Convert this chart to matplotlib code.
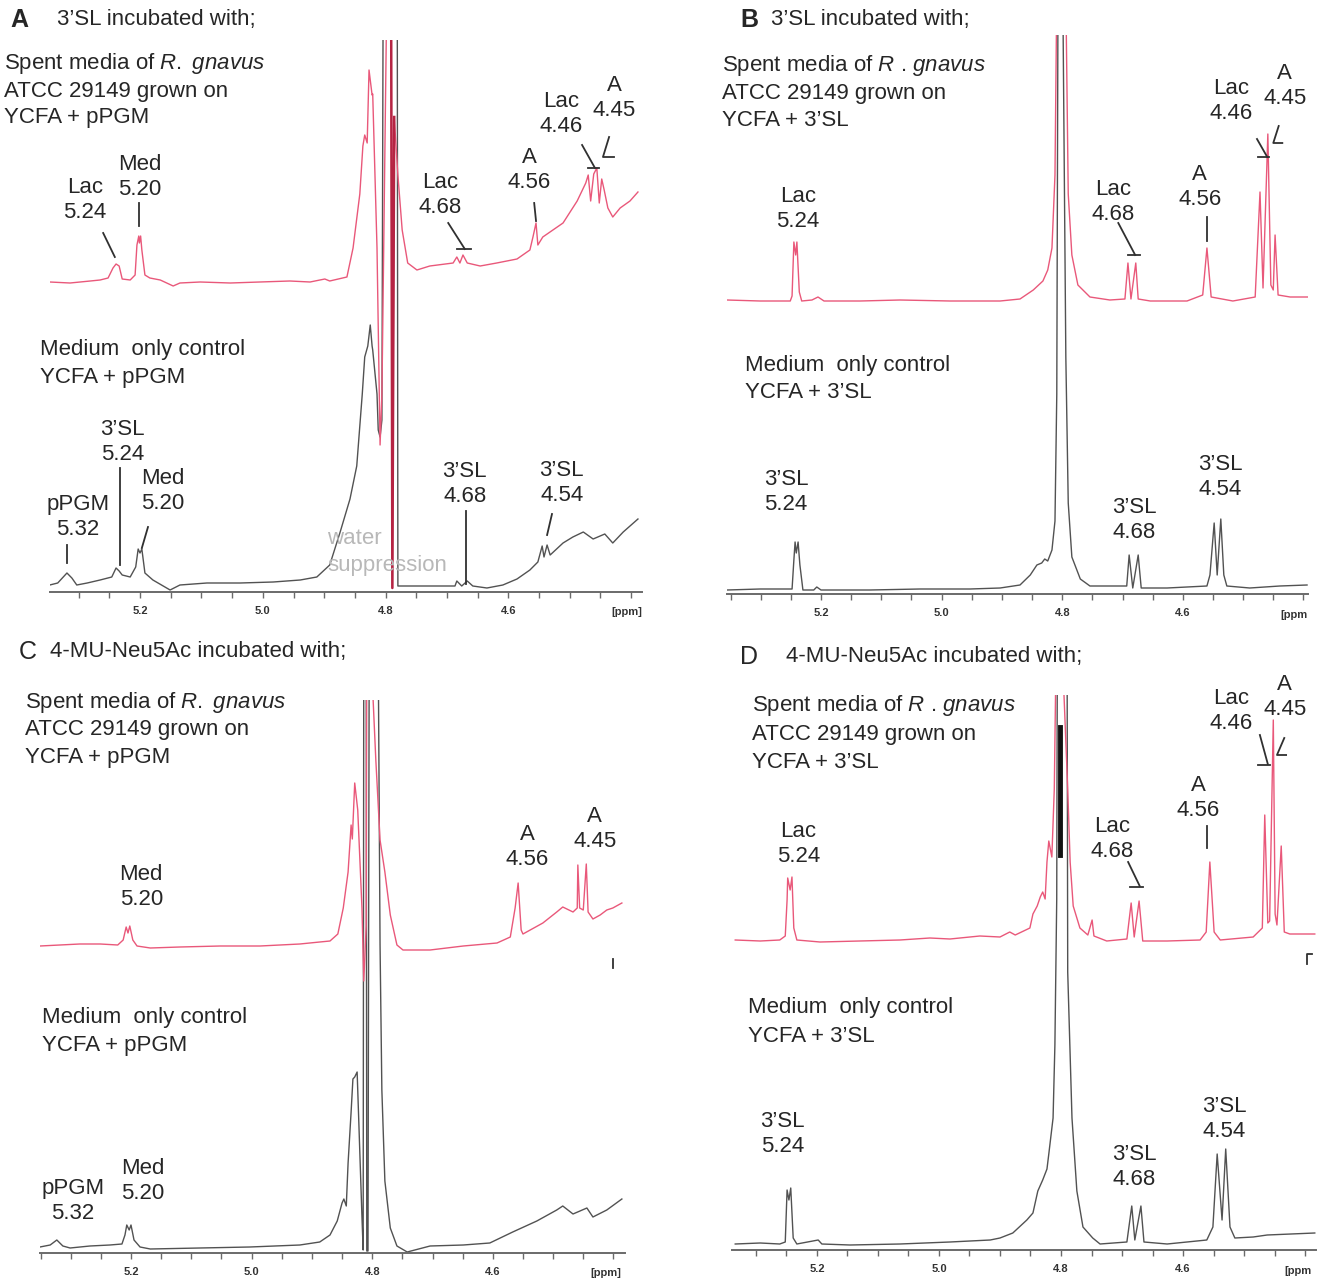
import matplotlib
matplotlib.use("Agg")
import matplotlib.pyplot as plt
from matplotlib.ticker import FixedLocator, MultipleLocator
import numpy as np

plt.rcParams['font.family'] = ['Liberation Sans', 'DejaVu Sans']
plt.rcParams['mathtext.fontset'] = 'custom'
plt.rcParams['mathtext.rm'] = 'Liberation Sans'
plt.rcParams['mathtext.it'] = 'Liberation Sans:italic'

W, H = 1321, 1282
PINK = '#e9587a'
DARKPINK = '#b52443'
GREY = '#525252'
TXT = '#262626'
LIGHT = '#b8b8b8'

# ---------------- data (ppm, intensity in arbitrary units) ----------------
# Panel A
a_pink_ppm = [5.347, 5.314, 5.281, 5.265, 5.252, 5.244, 5.239, 5.234, 5.229, 5.216, 5.208, 5.205, 5.202, 5.201,
              5.199, 5.197, 5.192, 5.184, 5.167, 5.146, 5.135, 5.102, 5.053, 5.005, 4.956, 4.923, 4.899, 4.891,
              4.863, 4.853, 4.842, 4.837, 4.834, 4.830, 4.827, 4.822, 4.821, 4.814, 4.809, 4.806, 4.798, 4.791,
              4.789, 4.786, 4.780, 4.773, 4.764, 4.749, 4.728, 4.690, 4.684, 4.679, 4.674, 4.667, 4.646, 4.619,
              4.586, 4.565, 4.560, 4.555, 4.552, 4.544, 4.511, 4.488, 4.474, 4.470, 4.466, 4.461, 4.456, 4.452,
              4.448, 4.444, 4.438, 4.430, 4.418, 4.402, 4.389]
a_pink_int = [310, 309, 311, 312, 314, 324, 328, 326, 313, 312, 317, 347, 356, 349, 356, 342, 317, 314, 312, 306,
              309, 310, 309, 310, 311, 310, 313, 311, 315, 344, 398, 446, 457, 449, 522, 497, 498, 344, 147, 198,
              600, 600, 4, 475, 417, 362, 329, 322, 326, 329, 335, 329, 337, 329, 326, 329, 333, 342, 355, 369,
              347, 355, 369, 391, 409, 417, 391, 418, 424, 389, 413, 402, 384, 375, 384, 391, 400]
a_grey_ppm = [5.347, 5.334, 5.325, 5.319, 5.311, 5.303, 5.286, 5.265, 5.246, 5.239, 5.234, 5.229, 5.216, 5.207,
              5.203, 5.200, 5.197, 5.192, 5.179, 5.151, 5.135, 5.091, 5.037, 4.983, 4.939, 4.912, 4.891, 4.874,
              4.858, 4.847, 4.838, 4.834, 4.829, 4.825, 4.822, 4.821, 4.814, 4.812, 4.809, 4.806, 4.804, 4.781,
              4.780, 4.760, 4.687, 4.684, 4.676, 4.667, 4.658, 4.635, 4.609, 4.586, 4.565, 4.552, 4.545, 4.542,
              4.537, 4.532, 4.511, 4.495, 4.478, 4.462, 4.443, 4.430, 4.413, 4.389]
a_grey_int = [7, 9, 15, 19, 14, 7, 9, 12, 15, 24, 21, 17, 15, 25, 43, 39, 43, 19, 12, 2, 7, 9, 9, 10, 12, 15, 27,
              60, 93, 126, 198, 235, 246, 267, 246, 242, 198, 162, 155, 172, 600, 600, 6, 6, 6, 11, 6, 11, 6, 4,
              7, 13, 22, 30, 46, 35, 47, 37, 49, 55, 60, 53, 58, 49, 60, 73]

# Panel B
b_pink_ppm = [5.356, 5.301, 5.251, 5.248, 5.245, 5.242, 5.240, 5.236, 5.232, 5.215, 5.205, 5.195, 5.135, 5.069,
              4.986, 4.903, 4.870, 4.848, 4.832, 4.824, 4.817, 4.812, 4.809, 4.794, 4.790, 4.784, 4.774, 4.754,
              4.721, 4.696, 4.691, 4.686, 4.678, 4.674, 4.654, 4.593, 4.567, 4.560, 4.553, 4.517, 4.480, 4.472,
              4.467, 4.459, 4.454, 4.450, 4.447, 4.442, 4.422, 4.392]
b_pink_int = [294, 293, 293, 298, 352, 339, 352, 302, 293, 294, 297, 293, 293, 294, 293, 293, 295, 304, 313, 324,
              346, 419, 600, 600, 400, 339, 309, 297, 294, 295, 331, 295, 331, 295, 293, 293, 299, 346, 297, 293,
              297, 402, 306, 460, 309, 304, 359, 299, 297, 297]
b_grey_ppm = [5.356, 5.301, 5.248, 5.245, 5.243, 5.241, 5.238, 5.235, 5.230, 5.212, 5.207, 5.200, 5.119, 5.036,
              4.953, 4.903, 4.870, 4.853, 4.842, 4.834, 4.829, 4.824, 4.817, 4.812, 4.809, 4.807, 4.799, 4.794,
              4.790, 4.784, 4.770, 4.754, 4.693, 4.689, 4.683, 4.674, 4.669, 4.626, 4.560, 4.555, 4.548, 4.543,
              4.537, 4.532, 4.527, 4.489, 4.439, 4.394]
b_grey_int = [4, 5, 5, 34, 52, 41, 52, 29, 4, 4, 7, 4, 4, 5, 5, 6, 9, 19, 29, 31, 35, 33, 44, 73, 200, 600, 600,
              237, 91, 37, 15, 8, 8, 39, 6, 39, 6, 6, 8, 19, 71, 19, 75, 19, 8, 6, 8, 9]

# Panel C
c_pink_ppm = [5.351, 5.318, 5.285, 5.251, 5.222, 5.213, 5.208, 5.205, 5.202, 5.197, 5.190, 5.168, 5.119, 5.052,
              4.986, 4.920, 4.887, 4.870, 4.857, 4.848, 4.840, 4.835, 4.833, 4.829, 4.824, 4.817, 4.814, 4.810,
              4.809, 4.802, 4.794, 4.787, 4.779, 4.770, 4.759, 4.749, 4.704, 4.649, 4.593, 4.571, 4.563, 4.558,
              4.553, 4.550, 4.517, 4.494, 4.484, 4.467, 4.460, 4.459, 4.456, 4.450, 4.445, 4.442, 4.434, 4.422,
              4.411, 4.401, 4.386]
c_pink_int = [307, 308, 309, 309, 308, 313, 326, 320, 327, 313, 307, 305, 306, 307, 307, 309, 311, 312, 319, 345,
              381, 428, 414, 470, 443, 345, 272, 327, 600, 600, 493, 413, 381, 338, 308, 303, 303, 307, 310, 316,
              345, 370, 323, 319, 330, 341, 346, 341, 345, 388, 345, 343, 389, 341, 334, 338, 343, 345, 350]
c_grey_ppm = [5.351, 5.334, 5.323, 5.313, 5.301, 5.268, 5.235, 5.215, 5.210, 5.207, 5.203, 5.200, 5.195, 5.185,
              5.168, 5.086, 5.003, 4.920, 4.887, 4.870, 4.858, 4.850, 4.847, 4.843, 4.840, 4.835, 4.832, 4.829,
              4.825, 4.822, 4.817, 4.815, 4.814, 4.810, 4.809, 4.807, 4.805, 4.790, 4.787, 4.784, 4.779, 4.770,
              4.759, 4.742, 4.704, 4.649, 4.605, 4.567, 4.527, 4.494, 4.484, 4.467, 4.444, 4.434, 4.411, 4.386]
c_grey_int = [6, 8, 13, 7, 5, 7, 8, 9, 18, 28, 23, 28, 13, 6, 4, 5, 6, 8, 11, 18, 32, 50, 54, 47, 90, 141, 174,
              176, 181, 127, 36, 3, 600, 600, 2, 2, 600, 600, 308, 163, 72, 25, 7, 1, 7, 8, 10, 21, 32, 43, 47,
              39, 45, 36, 43, 54]

# Panel D
d_pink_ppm = [5.334, 5.293, 5.261, 5.252, 5.249, 5.248, 5.244, 5.241, 5.238, 5.233, 5.195, 5.130, 5.064, 5.015,
              4.982, 4.933, 4.900, 4.884, 4.875, 4.851, 4.846, 4.839, 4.834, 4.830, 4.826, 4.823, 4.820, 4.815,
              4.811, 4.808, 4.798, 4.789, 4.785, 4.780, 4.769, 4.756, 4.749, 4.746, 4.725, 4.692, 4.685, 4.680,
              4.672, 4.666, 4.626, 4.572, 4.562, 4.556, 4.549, 4.539, 4.485, 4.470, 4.466, 4.461, 4.458, 4.452,
              4.449, 4.446, 4.439, 4.434, 4.425, 4.384]
d_pink_int = [310, 309, 310, 314, 350, 372, 360, 373, 322, 310, 308, 309, 310, 312, 311, 314, 313, 318, 315, 322,
              336, 344, 353, 358, 351, 388, 409, 393, 461, 600, 600, 461, 388, 344, 322, 315, 330, 314, 309, 311,
              347, 313, 349, 309, 309, 310, 318, 388, 318, 310, 313, 322, 435, 327, 329, 530, 336, 325, 404, 318,
              316, 316]
d_grey_ppm = [5.334, 5.293, 5.261, 5.252, 5.249, 5.246, 5.243, 5.239, 5.233, 5.198, 5.192, 5.146, 5.064, 4.982,
              4.916, 4.900, 4.879, 4.856, 4.846, 4.838, 4.830, 4.823, 4.820, 4.813, 4.810, 4.807, 4.806, 4.790,
              4.789, 4.782, 4.774, 4.764, 4.748, 4.736, 4.692, 4.684, 4.679, 4.669, 4.664, 4.626, 4.561, 4.551,
              4.544, 4.536, 4.530, 4.523, 4.515, 4.485, 4.462, 4.384]
d_grey_int = [6, 7, 6, 8, 60, 50, 62, 12, 6, 10, 6, 5, 6, 8, 10, 12, 17, 30, 37, 59, 70, 81, 96, 132, 205, 351,
              600, 600, 278, 132, 59, 23, 12, 6, 8, 44, 10, 44, 8, 6, 10, 23, 96, 30, 101, 23, 12, 13, 15, 17]
d_overlap_ppm = [4.802, 4.802]
d_overlap_int = [523, 395]

# peak labels: (text, ppm, intensity)
a_notes = [("Lac\n5.24", 5.290, 392), ("Med\n5.20", 5.200, 415), ("Lac\n4.68", 4.711, 397),
           ("A\n4.56", 4.566, 422), ("Lac\n4.46", 4.514, 478), ("A\n4.45", 4.428, 494),
           ("3\u2019SL\n5.24", 5.229, 150), ("Med\n5.20", 5.163, 101), ("pPGM\n5.32", 5.301, 75),
           ("3\u2019SL\n4.68", 4.671, 108), ("3\u2019SL\n4.54", 4.513, 109)]
a_leaders = [([5.260, 5.241], [359, 335]), ([5.202, 5.202], [389, 366]),
             ([4.698, 4.671], [369, 343]), ([4.684, 4.661], [343, 343]),
             ([4.558, 4.555], [389, 371]),
             ([4.480, 4.459], [447, 424]), ([4.470, 4.452], [424, 424]),
             ([4.436, 4.446, 4.428], [455, 435, 435]),
             ([5.233, 5.233], [124, 27]), ([5.187, 5.197], [65, 44]), ([5.319, 5.319], [47, 29]),
             ([4.669, 4.669], [81, 8]), ([4.529, 4.537], [78, 57])]
a_faint = [("water", 4.851, 54), ("suppression", 4.798, 26)]

b_notes = [("Lac\n5.24", 5.238, 385), ("Lac\n4.68", 4.715, 392), ("A\n4.56", 4.572, 407),
           ("Lac\n4.46", 4.520, 493), ("A\n4.45", 4.431, 508),
           ("3\u2019SL\n5.24", 5.258, 102), ("3\u2019SL\n4.68", 4.681, 74), ("3\u2019SL\n4.54", 4.538, 117)]
b_leaders = [([4.707, 4.679], [371, 339]), ([4.691, 4.671], [339, 339]),
             ([4.560, 4.560], [377, 353]),
             ([4.477, 4.460], [455, 437]), ([4.475, 4.457], [437, 437]),
             ([4.441, 4.450, 4.435], [468, 451, 451])]

c_notes = [("Med\n5.20", 5.183, 366), ("A\n4.56", 4.543, 406), ("A\n4.45", 4.431, 424),
           ("pPGM\n5.32", 5.296, 52), ("Med\n5.20", 5.180, 72)]
c_leaders = [([4.401, 4.401], [294, 285])]

d_notes = [("Lac\n5.24", 5.230, 406), ("Lac\n4.68", 4.716, 411), ("A\n4.56", 4.575, 452),
           ("Lac\n4.46", 4.521, 539), ("A\n4.45", 4.433, 553),
           ("3\u2019SL\n5.24", 5.257, 116), ("3\u2019SL\n4.68", 4.680, 83), ("3\u2019SL\n4.54", 4.533, 131)]
d_leaders = [([4.690, 4.671], [388, 364]), ([4.687, 4.666], [363, 363]),
             ([4.561, 4.561], [424, 402]),
             ([4.474, 4.461], [515, 486]), ([4.477, 4.457], [485, 485]),
             ([4.434, 4.446, 4.431], [512, 495, 495]),
             ([4.388, 4.396, 4.396], [296, 296, 286])]

major_ticks = [5.2, 5.0, 4.8, 4.6]
major_labels = ["5.2", "5.0", "4.8", "4.6"]

# panel layout: pixel box (left, top, right, bottom), xlim, ymax, ppm-label
panels = {
    'A': dict(box=(50, 40, 642, 592), xlim=(5.3466, 4.3824), ymax=552, unit="[ppm]", unit_x=4.407,
              pink=(a_pink_ppm, a_pink_int), grey=(a_grey_ppm, a_grey_int), notes=a_notes, leaders=a_leaders),
    'B': dict(box=(727, 35, 1308, 594), xlim=(5.3559, 4.3924), ymax=559, unit="[ppm", unit_x=4.416,
              pink=(b_pink_ppm, b_pink_int), grey=(b_grey_ppm, b_grey_int), notes=b_notes, leaders=b_leaders),
    'C': dict(box=(40, 700, 625, 1253), xlim=(5.3509, 4.3808), ymax=553, unit="[ppm]", unit_x=4.412,
              pink=(c_pink_ppm, c_pink_int), grey=(c_grey_ppm, c_grey_int), notes=c_notes, leaders=c_leaders),
    'D': dict(box=(732, 695, 1316, 1250), xlim=(5.3393, 4.3820), ymax=555, unit="[ppm", unit_x=4.411,
              pink=(d_pink_ppm, d_pink_int), grey=(d_grey_ppm, d_grey_int), notes=d_notes, leaders=d_leaders),
}

fig = plt.figure(figsize=(W / 100, H / 100), dpi=100)
fig.patch.set_facecolor('white')

axes = {}
for key, p in panels.items():
    l, t, r, b = p['box']
    ax = fig.add_axes([l / W, 1 - b / H, (r - l) / W, (b - t) / H])
    ax.set_facecolor('none')
    ax.set_xlim(*p['xlim'])
    ax.set_ylim(0, p['ymax'])
    for s in ('top', 'left', 'right'):
        ax.spines[s].set_visible(False)
    ax.spines['bottom'].set_color('#6a6a6a')
    ax.spines['bottom'].set_linewidth(1.4)
    ax.yaxis.set_visible(False)
    ax.xaxis.set_major_locator(FixedLocator(major_ticks))
    ax.xaxis.set_minor_locator(MultipleLocator(0.05))
    ax.set_xticklabels(major_labels)
    ax.tick_params(axis='x', which='both', direction='out', length=4, width=1.0, color='#6a6a6a')
    ax.tick_params(axis='x', which='major', labelsize=8, pad=6, labelcolor='#333333')
    for lab in ax.get_xticklabels():
        lab.set_fontweight('bold')
    ax.text(p['unit_x'], -0.037, p['unit'], transform=ax.get_xaxis_transform(), ha='center', va='center',
            fontsize=8, fontweight='bold', color='#333333')
    gx, gy = p['grey']
    ax.plot(gx, gy, color=GREY, lw=1.0, solid_joinstyle='round')
    px, py = p['pink']
    ax.plot(px, py, color=PINK, lw=1.0, solid_joinstyle='round')
    for txt, x, y in p['notes']:
        ax.text(x, y, txt, ha='center', va='center', fontsize=16, color=TXT, linespacing=1.2,
                multialignment='center')
    for xs, ys in p['leaders']:
        ax.plot(xs, ys, color='#303030', lw=1.3, clip_on=False)
    axes[key] = ax

# darker core of the pink water-suppression lines in panel A
ax = axes['A']
apx = np.array(a_pink_ppm)
m = (apx >= 4.786) & (apx <= 4.798)
ax.plot(apx[m], np.array(a_pink_int)[m], color=DARKPINK, lw=1.8)
for txt, x, y in a_faint:
    ax.text(x, y, txt, ha='center', va='center', fontsize=16, color=LIGHT)

# overlap mark in panel D
axes['D'].plot(d_overlap_ppm, d_overlap_int, color='#111111', lw=3.5)


def ftext(x, y, s, **kw):
    fig.text(x / W, 1 - y / H, s, ha='left', va='center', color=TXT, **kw)


FS = 16
SPENT_1 = r"Spent media of $\mathit{R.}$ $\mathit{gnavus}$"
SPENT_2 = r"Spent media of $\mathit{R}$ . $\mathit{gnavus}$"
# Panel A
ftext(10, 20, "A", fontsize=18, fontweight='bold')
ftext(57, 20, "3\u2019SL incubated with;", fontsize=FS)
ftext(4, 63, SPENT_1, fontsize=FS)
ftext(4, 91, "ATCC 29149 grown on", fontsize=FS)
ftext(4, 118, "YCFA + pPGM", fontsize=FS)
ftext(40, 350, "Medium  only control", fontsize=FS)
ftext(40, 378, "YCFA + pPGM", fontsize=FS)
# Panel B
ftext(740, 20, "B", fontsize=18, fontweight='bold')
ftext(771, 20, "3\u2019SL incubated with;", fontsize=FS)
ftext(722, 66, SPENT_2, fontsize=FS)
ftext(722, 93, "ATCC 29149 grown on", fontsize=FS)
ftext(722, 121, "YCFA + 3\u2019SL", fontsize=FS)
ftext(745, 365, "Medium  only control", fontsize=FS)
ftext(745, 392, "YCFA + 3\u2019SL", fontsize=FS)
# Panel C
ftext(19, 652, "C", fontsize=18)
ftext(50, 652, "4-MU-Neu5Ac incubated with;", fontsize=FS)
ftext(25, 702, SPENT_1, fontsize=FS)
ftext(25, 730, "ATCC 29149 grown on", fontsize=FS)
ftext(25, 757, "YCFA + pPGM", fontsize=FS)
ftext(42, 1018, "Medium  only control", fontsize=FS)
ftext(42, 1046, "YCFA + pPGM", fontsize=FS)
# Panel D
ftext(740, 657, "D", fontsize=18)
ftext(786, 657, "4-MU-Neu5Ac incubated with;", fontsize=FS)
ftext(752, 706, SPENT_2, fontsize=FS)
ftext(752, 734, "ATCC 29149 grown on", fontsize=FS)
ftext(752, 762, "YCFA + 3\u2019SL", fontsize=FS)
ftext(748, 1008, "Medium  only control", fontsize=FS)
ftext(748, 1036, "YCFA + 3\u2019SL", fontsize=FS)

fig.savefig("out.png", dpi=100, facecolor='white')
